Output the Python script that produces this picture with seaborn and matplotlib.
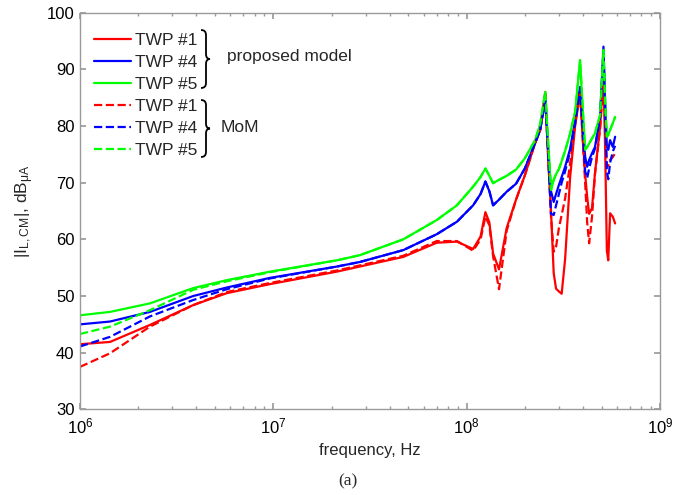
import numpy as np
import pandas as pd
import seaborn as sns
import matplotlib.pyplot as plt
from matplotlib.path import Path
from matplotlib.patches import PathPatch

# --- values (frequency in MHz, level in dBuA) ---
freq_mhz = [1, 1.43, 2.3, 3.85, 5.74, 9.6, 21.3, 28, 47, 70,
            89, 108, 118, 125, 131, 137, 147, 161, 180, 200,
            226, 240, 255, 264, 273, 282, 290, 300, 310, 323,
            343, 364, 386, 398, 410, 420, 430, 445, 461, 490,
            510, 521, 531, 540, 552, 570, 586]

twp1_model = [41.5, 41.9, 44.9, 48.4, 50.5, 52.1, 54.3, 55.2, 56.9, 59.4,
              59.6, 58.3, 60.5, 64.8, 63.0, 57.5, 54.7, 62.0, 67.0, 71.3,
              77.0, 79.3, 86.0, 74.0, 65.0, 54.0, 51.3, 50.8, 50.4, 56.5,
              71.0, 80.0, 85.8, 78.0, 71.5, 67.5, 64.5, 65.5, 71.7, 79.9,
              89.3, 75.0, 58.0, 56.3, 64.6, 64.0, 62.8]
twp4_model = [45.0, 45.5, 47.2, 50.0, 51.5, 53.2, 55.2, 56.0, 58.1, 60.9,
              63.1, 66.0, 68.0, 70.2, 68.5, 66.0, 67.0, 68.4, 69.8, 72.5,
              77.0, 79.3, 84.8, 76.0, 68.5, 66.6, 68.0, 69.6, 71.0, 72.8,
              76.0, 81.0, 86.9, 79.9, 74.6, 72.8, 74.0, 75.2, 76.3, 81.6,
              94.0, 83.4, 76.3, 75.8, 77.5, 76.3, 78.1]
twp5_model = [46.6, 47.2, 48.7, 51.4, 52.8, 54.3, 56.3, 57.2, 60.0, 63.4,
              66.0, 69.3, 71.0, 72.5, 71.2, 69.9, 70.5, 71.2, 72.3, 74.3,
              77.5, 80.3, 86.0, 77.0, 68.7, 70.5, 71.5, 72.4, 73.8, 75.6,
              78.7, 82.5, 91.6, 83.4, 75.8, 76.3, 76.9, 77.8, 78.7, 81.9,
              93.4, 83.4, 78.1, 78.4, 79.3, 80.5, 81.6]

twp1_mom = [37.5, 39.9, 44.6, 48.4, 50.7, 52.3, 54.5, 55.4, 57.1, 59.7,
            59.7, 58.0, 60.0, 64.0, 62.5, 57.0, 51.2, 61.5, 67.0, 71.3,
            77.0, 79.3, 85.5, 75.0, 64.0, 57.8, 58.7, 62.0, 64.3, 67.2,
            73.4, 80.5, 86.0, 78.0, 70.0, 63.0, 59.3, 64.0, 71.5, 79.5,
            88.0, 80.0, 72.8, 73.0, 74.0, 74.5, 75.2]
twp4_mom = [41.1, 42.8, 46.4, 49.3, 51.2, 53.1, 55.2, 56.0, 58.1, 60.9,
            63.1, 66.0, 68.0, 70.2, 68.5, 66.0, 67.0, 68.4, 69.8, 72.5,
            77.0, 79.3, 84.5, 75.0, 64.5, 64.3, 66.0, 68.0, 70.0, 72.0,
            75.5, 80.5, 86.5, 79.5, 72.0, 70.8, 72.5, 74.5, 76.0, 81.5,
            93.0, 82.0, 72.0, 70.6, 73.5, 75.5, 76.5]
twp5_mom = [43.3, 44.6, 47.5, 51.1, 52.6, 54.2, 56.3, 57.2, 60.0, 63.4,
            66.0, 69.3, 71.0, 72.5, 71.2, 69.9, 70.5, 71.2, 72.3, 74.3,
            77.5, 80.3, 86.0, 77.0, 68.7, 70.5, 71.5, 72.4, 73.8, 75.6,
            78.7, 82.5, 91.6, 83.4, 75.8, 76.3, 76.9, 77.8, 78.7, 81.9,
            93.4, 83.4, 78.1, 78.4, 79.3, 80.5, 81.6]

labels = ["TWP #1", "TWP #4", "TWP #5"]
colors = ["#ff0000", "#0000ff", "#00ff00"]

freq_hz = np.array(freq_mhz) * 1e6

sns.set_theme(style="ticks")
plt.rcParams['font.family'] = ['Liberation Sans', 'DejaVu Sans']
plt.rcParams['mathtext.fontset'] = 'custom'
plt.rcParams['mathtext.rm'] = 'Liberation Sans'
plt.rcParams['mathtext.it'] = 'Liberation Sans:italic'

W, H = 697, 495
fig = plt.figure(figsize=(W / 100, H / 100), dpi=100)
ax = fig.add_axes([80 / W, 1 - 409.4 / H, 580 / W, 396.8 / H])

series = [(twp1_model, "-"), (twp4_model, "-"), (twp5_model, "-"),
          (twp1_mom, "--"), (twp4_mom, "--"), (twp5_mom, "--")]
for i, (vals, ls) in enumerate(series):
    sns.lineplot(x=freq_hz, y=vals, ax=ax, color=colors[i % 3],
                 linestyle=ls, linewidth=1.6, label=labels[i % 3])

ax.set_xscale("log")
ax.set_xlim(1e6, 1e9)
ax.set_ylim(30, 100)
ax.set_yticks(range(30, 101, 10))

gray = "#9a9a9a"
for s in ax.spines.values():
    s.set_color(gray)
    s.set_linewidth(1.0)
ax.tick_params(which="both", direction="in", top=True, right=True,
               color=gray, labelsize=12, labelcolor="black")
ax.tick_params(which="major", length=4.5)
ax.tick_params(which="minor", length=2.5)
ax.tick_params(axis="x", which="major", pad=5)
ax.tick_params(axis="y", which="major", pad=4)

ax.set_xlabel("frequency, Hz", fontsize=12, labelpad=5)
ax.set_ylabel(r"|I$_{\mathrm{L,CM}}$|, dB$_{\mathrm{\mu A}}$", fontsize=12.5, labelpad=8)

leg = ax.legend(loc="upper left", bbox_to_anchor=(0.019, 0.958), frameon=False,
                fontsize=12.5, handlelength=2.1, handletextpad=0.25,
                labelspacing=0.40, borderaxespad=0.0, borderpad=0.2)


def brace(x0, yt, yb, w=5, tip=9, r=5):
    ym = (yt + yb) / 2
    pts = [(x0, yt), (x0 + w, yt), (x0 + w, yt + r),
           (x0 + w, ym - r), (x0 + w, ym), (x0 + tip, ym),
           (x0 + w, ym), (x0 + w, ym + r),
           (x0 + w, yb - r), (x0 + w, yb), (x0, yb)]
    codes = [Path.MOVETO, Path.CURVE3, Path.CURVE3,
             Path.LINETO, Path.CURVE3, Path.CURVE3,
             Path.CURVE3, Path.CURVE3,
             Path.LINETO, Path.CURVE3, Path.CURVE3]
    pts = [(x / W, 1 - y / H) for x, y in pts]
    fig.add_artist(PathPatch(Path(pts, codes), transform=fig.transFigure,
                             fill=False, lw=1.3, color="black"))


brace(201, 30, 88)
brace(201, 100, 157)
fig.text(227 / W, 1 - 57 / H, "proposed model", fontsize=12.5, va="center")
fig.text(221 / W, 1 - 128 / H, "MoM", fontsize=12.5, va="center")

fig.text(348 / W, 1 - 481 / H, "(a)", fontsize=12.5, ha="center", va="center",
         family=["Liberation Serif"])

fig.savefig("out.png", dpi=100)
